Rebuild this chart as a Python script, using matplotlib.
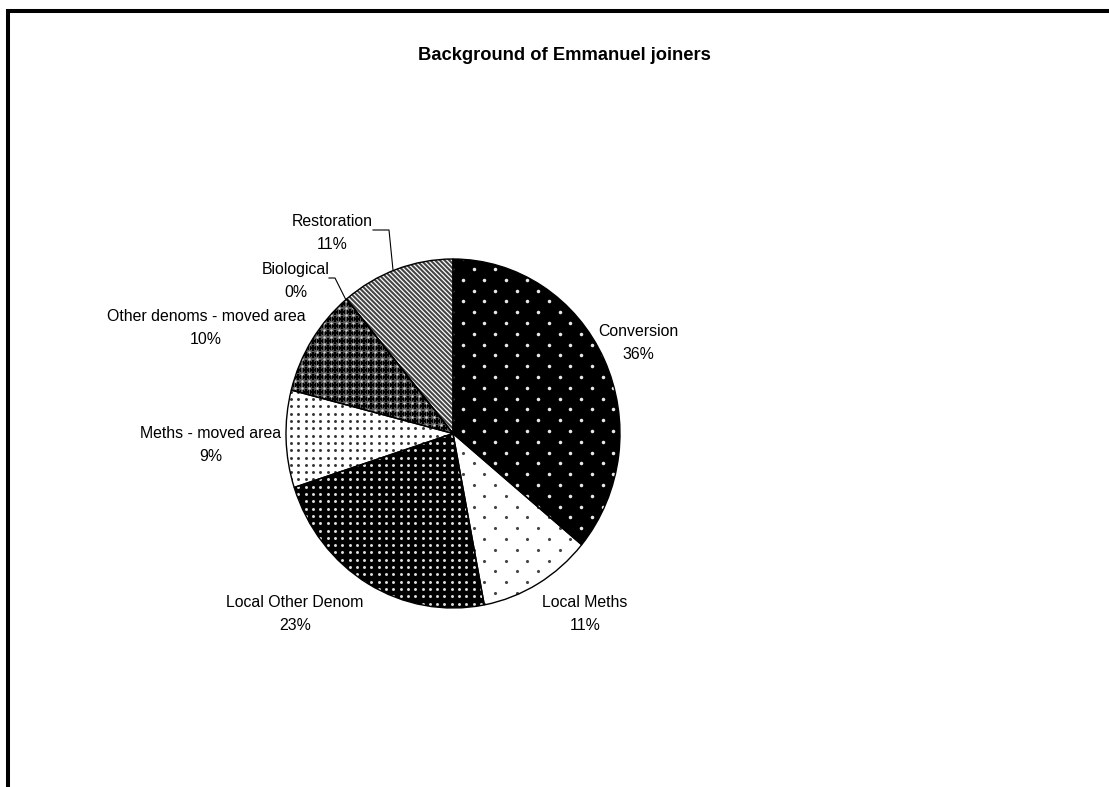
import numpy as np
import matplotlib
matplotlib.use('Agg')
import matplotlib.pyplot as plt
from matplotlib.lines import Line2D
from matplotlib.collections import LineCollection

# ---------------- data ----------------
categories = ['Conversion', 'Local Meths', 'Local Other Denom', 'Meths - moved area',
              'Other denoms - moved area', 'Biological', 'Restoration']
shares = [36, 11, 23, 9, 10, 0, 11]
title = 'Background of Emmanuel joiners'

# ---------------- layout ----------------
W, H = 1109, 787
plt.rcParams['font.family'] = ['Liberation Sans', 'DejaVu Sans']
fig = plt.figure(figsize=(W / 100, H / 100), dpi=100)
fig.patch.set_facecolor('white')

L, T, R, B = 286, 259, 620, 608          # pie bounding box in pixels
ax = fig.add_axes([L / W, 1 - B / H, (R - L) / W, (B - T) / H])
kx = 2.0 / (R - L)                       # data units per pixel
ky = 2.0 / (B - T)

wedges, _ = ax.pie(shares, startangle=90, counterclock=False, radius=1,
                   center=(0, 0), wedgeprops=dict(linewidth=0))


def fix_axes():
    ax.set_aspect('auto')
    ax.set_xlim(-1, 1)
    ax.set_ylim(-1, 1)
    ax.axis('off')


fix_axes()


def lattice(dx_px, dy_px, stagger=True, x0=0.0, y0=0.0):
    ys = np.arange(-1.1 + y0 * ky, 1.1, dy_px * ky)
    pts = []
    for i, y in enumerate(ys):
        off = (dx_px / 2 * kx) if (stagger and i % 2) else 0.0
        xs = np.arange(-1.1 + off + x0 * kx, 1.1, dx_px * kx)
        pts.append(np.column_stack([xs, np.full_like(xs, y)]))
    return np.vstack(pts)


def dots(wedge, color, dx_px, dy_px, size, stagger=True, marker='o', lw=0,
         x0=0.0, y0=0.0):
    p = lattice(dx_px, dy_px, stagger, x0, y0)
    sc = ax.scatter(p[:, 0], p[:, 1], s=size, c=color, marker=marker,
                    linewidths=lw, zorder=2)
    sc.set_clip_path(wedge)


def stripes(wedge, color, period_px, lw):
    segs = []
    for c in np.arange(-700, 700, period_px):
        x0, x1 = -200, 200
        segs.append([(x0 * kx, (-x0 + c) * ky), (x1 * kx, (-x1 + c) * ky)])
    lc = LineCollection(segs, colors=color, linewidths=lw, zorder=2)
    ax.add_collection(lc)
    lc.set_clip_path(wedge)


# textures
wedges[0].set_facecolor('black')                                  # Conversion
dots(wedges[0], '#e8e8e8', 21.5, 10.8, 6.5)
wedges[1].set_facecolor('white')                                  # Local Meths
dots(wedges[1], '#444444', 21.5, 10.8, 5.0)
wedges[2].set_facecolor('black')                                  # Local Other Denom
dots(wedges[2], '#e0e0e0', 7.3, 7.3, 4.5, stagger=False)
wedges[3].set_facecolor('white')                                  # Meths - moved area
dots(wedges[3], '#333333', 7.3, 7.3, 4.5, stagger=False)
wedges[4].set_facecolor('#5a5a5a')                                # Other denoms - moved area
dots(wedges[4], 'black', 7.3, 7.3, 16, stagger=False, marker='+', lw=1.6)
dots(wedges[4], '#d8d8d8', 7.3, 7.3, 3.0, stagger=False, x0=3.65, y0=3.65)
wedges[5].set_facecolor('white')                                  # Biological
wedges[6].set_facecolor('white')                                  # Restoration
stripes(wedges[6], '#444444', 4.7, 1.5)

# outlines
outl, _ = ax.pie(shares, startangle=90, counterclock=False, radius=1, center=(0, 0),
                 wedgeprops=dict(fill=False, edgecolor='black', linewidth=1.0))
for w in outl:
    w.set_zorder(5)
fix_axes()

# labels (positions in data units of the pie box)
label_pos = [(1.108, 0.519), (0.790, -1.034), (-0.946, -1.034), (-1.449, -0.066),
             (-1.479, 0.605), (-0.940, 0.874), (-0.725, 1.149)]
for cat, v, (x, y) in zip(categories, shares, label_pos):
    ax.text(x, y, f'{cat}\n{v}%', ha='center', va='center', fontsize=11.4,
            linespacing=1.7, clip_on=False, color='black')


def px2d(px, py):
    return ((px - (L + R) / 2) * kx, ((T + B) / 2 - py) * ky)


# leader lines
for path in ([(373, 230), (389, 230), (393, 270)],
             [(329, 278), (335, 278), (346, 300)]):
    d = [px2d(*p) for p in path]
    ax.plot([q[0] for q in d], [q[1] for q in d], color='black', lw=0.8,
            clip_on=False, zorder=6)

# title
fig.text(564 / W, 1 - 55.5 / H, title, ha='center', va='center',
         fontsize=13.2, fontweight='bold')

# chart frame (top and left edges visible)
fig.add_artist(Line2D([8 / W, 8 / W, 1.01], [-0.01, 1 - 11 / H, 1 - 11 / H],
                      transform=fig.transFigure, color='black', lw=2.9,
                      solid_joinstyle='miter'))

fig.savefig('out.png', dpi=100, facecolor='white')
